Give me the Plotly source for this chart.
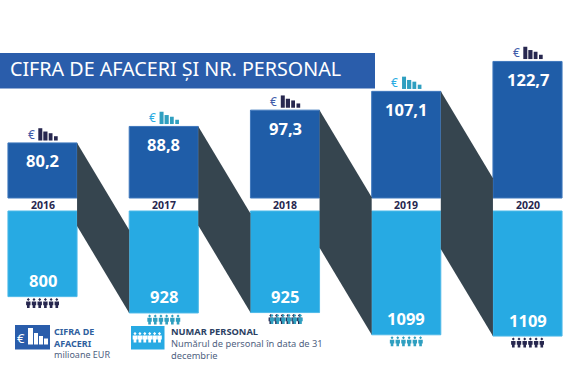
import plotly.graph_objects as go

TITLE = "CIFRA DE AFACERI ȘI NR. PERSONAL"
years = [2016, 2017, 2018, 2019, 2020]
turnover = [80.2, 88.8, 97.3, 107.1, 122.7]
staff = [800, 928, 925, 1099, 1109]
turnover_labels = ["80,2", "88,8", "97,3", "107,1", "122,7"]
staff_labels = ["800", "928", "925", "1099", "1109"]

W, H = 570, 387
BLUE, SKY, SLATE = "#1f5da8", "#27aae3", "#36454f"
BANNER = "#2a5dab"
NAVY, TEAL = "#27274f", "#2f9fc0"
icon_bar_colors = [NAVY, TEAL, NAVY, TEAL, NAVY]
euro_colors = ["#3f5ba9", "#29abe2", "#3f5ba9", "#29abe2", "#3f5ba9"]
people_colors = [[NAVY], [TEAL], [NAVY, TEAL], [TEAL], [NAVY]]

# shared vertical scale: turnover rises above the floor, staff hangs below it
PX = 1.917            # pixels per turnover unit
FLOOR = 51.47         # turnover value sitting on the lower edge of the blue bars
GAP = 13 / PX         # white band with the year
STAFF_ZERO = 129.6
STAFF_RATIO = 0.1277 / PX
FLOOR_PX = 198
BAR_W = 0.57
DROP = 87 / PX        # fall of the ribbon across the gap


def staff_y(n):
    return FLOOR - GAP - (n - STAFF_ZERO) * STAFF_RATIO


lows = [staff_y(n) for n in staff]
upper_base = FLOOR
lower_base = FLOOR - GAP
x_step = 121.25
x0 = years[0] - 42.5 / x_step
x_range = [x0, x0 + W / x_step]
y_top = FLOOR + FLOOR_PX / PX
y_range = [FLOOR - (H - FLOOR_PX) / PX, y_top]

fig = go.Figure()
fig.add_bar(x=years, y=[v - upper_base for v in turnover], base=upper_base, width=BAR_W,
            marker=dict(color=BLUE, line=dict(color="#3f78bd", width=1)), hoverinfo="skip")
fig.add_bar(x=years, y=[l - lower_base for l in lows], base=lower_base, width=BAR_W,
            marker=dict(color=SKY, line=dict(color="#4db9e8", width=1)), hoverinfo="skip")

for i in range(len(years) - 1):
    xa = years[i] + BAR_W / 2
    xb = years[i + 1] - BAR_W / 2
    top, low = turnover[i], lows[i + 1]
    fig.add_scatter(x=[xa, xb, xb, xa, xa], y=[top, top - DROP, low, low + DROP, top],
                    mode="lines", fill="toself", fillcolor=SLATE,
                    line=dict(color=SLATE, width=0), hoverinfo="skip")

shapes, ann = [], []


def rect(x0p, y0p, x1p, y1p, color):
    shapes.append(dict(type="rect", xref="paper", yref="paper", x0=x0p / W, x1=x1p / W,
                       y0=1 - y0p / H, y1=1 - y1p / H, fillcolor=color, line_width=0))


def text(s, xp, yp, size, color, anchor="left", font="Noto Sans"):
    ann.append(dict(text=s, xref="paper", yref="paper", x=xp / W,
                    y=1 - yp / H, xanchor=anchor, yanchor="middle", showarrow=False, align="left",
                    xshift=-1, borderpad=0, borderwidth=0,
                    font=dict(size=size, color=color, family=font)))


def person_path(cx, top, h):
    # head plus body, y measured upward from the anchor, all in pixels
    w = h * 0.22
    r = h * 0.15
    hy = top - r
    by = top - 2 * r - 0.4
    return (f"M{cx - r},{hy} L{cx},{hy + r} L{cx + r},{hy} L{cx},{hy - r} Z "
            f"M{cx - w},{by} L{cx + w},{by} L{cx + w},{by - h * 0.38} L{cx + w * 0.6},{by - h * 0.38} "
            f"L{cx + w * 0.6},{top - h} L{cx - w * 0.6},{top - h} L{cx - w * 0.6},{by - h * 0.38} "
            f"L{cx - w},{by - h * 0.38} Z")


icon_bars = [(-4.2, -0.2, 12.3), (0.8, 5.0, 9.0), (6.2, 10.0, 7.3), (11.5, 15.2, 4.3)]

for i, yr in enumerate(years):
    # value labels
    ann.append(dict(text=f"<b>{turnover_labels[i]}</b>", x=yr, y=turnover[i], yshift=-18,
                    showarrow=False, font=dict(size=16.5, color="white", family="Noto Sans")))
    ann.append(dict(text=f"<b>{staff_labels[i]}</b>", x=yr, y=lows[i], yshift=16,
                    showarrow=False, font=dict(size=16.5, color="white", family="Noto Sans")))
    ann.append(dict(text=f"<b>{yr}</b>", x=yr, y=lower_base + GAP / 2, yshift=-0.5,
                    showarrow=False, font=dict(size=10.5, color="#27274f", family="Noto Sans")))
    # euro mark and mini bars above the blue bar
    ann.append(dict(text="€", x=yr, y=turnover[i], xshift=-11.5, yshift=8.5, showarrow=False,
                    font=dict(size=12, color=euro_colors[i], family="Noto Sans")))
    for a, b, h in icon_bars:
        shapes.append(dict(type="rect", xref="x", yref="y", xsizemode="pixel", ysizemode="pixel",
                           xanchor=yr, yanchor=turnover[i], x0=a, x1=b, y0=2.4, y1=2.4 + h,
                           fillcolor=icon_bar_colors[i], line_width=0))
    # six figures below the sky bar
    for c, col in enumerate(people_colors[i]):
        path = " ".join(person_path(-14.2 + k * 5.7 + c * 1.2, -1.5, 10) for k in range(6))
        shapes.append(dict(type="path", xref="x", yref="y", xsizemode="pixel", ysizemode="pixel",
                           xanchor=yr, yanchor=lows[i], path=path, fillcolor=col, line_width=0))

# banner
rect(0, 53, 375, 88.5, BANNER)
text(TITLE, 10.5, 68.5, 19.7, "white")

# legend: turnover
rect(15, 325, 50, 349.5, "#2a5dab")
text("€", 17.5, 337.5, 13, "white")
for a, b, t in [(28, 33, 328), (34, 38, 333), (39, 43, 336), (44, 48, 338.5)]:
    rect(a, t, b, 344.5, "white")
text("<b>CIFRA DE</b><br><b>AFACERI</b><br><span style='color:#4f5f7f'>milioane EUR</span>",
     55, 342.5, 9, "#2f5f9e")

# legend: staff
rect(131, 326, 164.5, 349.5, SKY)
path = " ".join(person_path(135 + k * 4.9, -332, 10.5) for k in range(6))
shapes.append(dict(type="path", xref="paper", yref="paper", xsizemode="pixel", ysizemode="pixel",
                   xanchor=0, yanchor=1, path=path, fillcolor="white", line_width=0))
text("<b>NUMAR PERSONAL</b><br><span style='color:#4f5f7f'>Numărul de personal în data de 31</span>"
     "<br><span style='color:#4f5f7f'>decembrie</span>",
     172, 343.5, 9.3, "#2b3f63")

fig.update_layout(width=W, height=H, margin=dict(l=0, r=0, t=0, b=0), showlegend=False,
                  plot_bgcolor="white", paper_bgcolor="white", barmode="overlay",
                  shapes=shapes, annotations=ann,
                  xaxis=dict(range=x_range, visible=False, fixedrange=True),
                  yaxis=dict(range=y_range, visible=False, fixedrange=True))
fig.write_html("out.html", config=dict(displayModeBar=False),
               post_script="document.body.style.margin='0';document.documentElement.style.overflow='hidden';")
